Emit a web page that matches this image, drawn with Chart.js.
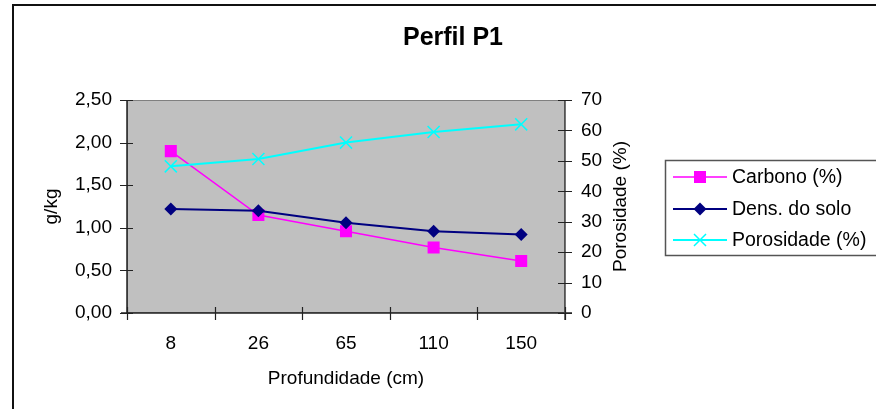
<!DOCTYPE html>
<html>
<head>
<meta charset="utf-8">
<script src="https://cdn.jsdelivr.net/npm/chart.js@4/dist/chart.umd.min.js"></script>
<style>
  html, body { margin: 0; padding: 0; background: #fff; }
  #wrap { width: 876px; height: 409px; position: relative; }
</style>
</head>
<body>
<div id="wrap"><canvas id="c" width="876" height="409"></canvas></div>
<script>
// Depth of each sample (cm)
const categories = ['8', '26', '65', '110', '150'];
// Left axis (g/kg)
const carbono = [1.90, 1.15, 0.96, 0.77, 0.61];
const densidade = [1.22, 1.20, 1.06, 0.96, 0.92];
// Right axis (%)
const porosidade = [48.2, 50.6, 56.0, 59.5, 62.0];

const leftTicks = [0, 0.5, 1, 1.5, 2, 2.5];
const rightTicks = [0, 10, 20, 30, 40, 50, 60, 70];

const FONT = "'Liberation Sans', Arial, sans-serif";
const FS = 19;

// Background of the plotting area, frame, crossing tick marks, title and legend
const decor = {
  id: 'decor',
  beforeDatasetsDraw(chart) {
    const { ctx, chartArea: a, scales } = chart;
    ctx.save();
    ctx.fillStyle = '#C0C0C0';
    ctx.fillRect(a.left, a.top, a.right - a.left, a.bottom - a.top);
    ctx.strokeStyle = '#808080';
    ctx.lineWidth = 1;
    ctx.strokeRect(a.left + 0.5, a.top + 0.5, a.right - a.left - 1, a.bottom - a.top - 1);

    ctx.strokeStyle = '#222';
    ctx.lineWidth = 1.5;
    ctx.beginPath();
    ctx.moveTo(a.left, a.top); ctx.lineTo(a.left, a.bottom);
    ctx.moveTo(a.left - 6, a.bottom); ctx.lineTo(a.right + 7, a.bottom);
    ctx.stroke();
    ctx.strokeStyle = '#444';
    ctx.beginPath();
    ctx.moveTo(a.right, a.top); ctx.lineTo(a.right, a.bottom + 7);
    ctx.stroke();

    // crossing tick marks
    ctx.strokeStyle = '#222';
    ctx.lineWidth = 1.2;
    ctx.beginPath();
    leftTicks.forEach(v => {
      const y = Math.round(scales.y.getPixelForValue(v)) + 0.5;
      ctx.moveTo(a.left - 7, y); ctx.lineTo(a.left + 6, y);
    });
    rightTicks.forEach(v => {
      const y = Math.round(scales.y1.getPixelForValue(v)) + 0.5;
      ctx.moveTo(a.right - 7, y); ctx.lineTo(a.right + 7, y);
    });
    const xs = scales.x;
    for (let i = 0; i <= categories.length; i++) {
      const x = Math.round(xs.getPixelForValue(i - 0.5)) + 0.5;
      ctx.moveTo(x, a.bottom - 6); ctx.lineTo(x, a.bottom + 7);
    }
    ctx.stroke();
    ctx.restore();
  },
  afterDraw(chart) {
    const { ctx, chartArea: a } = chart;
    ctx.save();
    // outer frame
    ctx.strokeStyle = '#111';
    ctx.lineWidth = 2;
    ctx.beginPath();
    ctx.moveTo(13, 420); ctx.lineTo(13, 5); ctx.lineTo(880, 5);
    ctx.stroke();

    // title
    ctx.fillStyle = '#000';
    ctx.font = 'bold 25px ' + FONT;
    ctx.textAlign = 'center';
    ctx.textBaseline = 'middle';
    ctx.fillText('Perfil P1', 453, 38);

    // right axis title, reading bottom to top
    ctx.save();
    ctx.translate(621, (a.top + a.bottom) / 2);
    ctx.rotate(-Math.PI / 2);
    ctx.font = FS + 'px ' + FONT;
    ctx.textAlign = 'center';
    ctx.textBaseline = 'middle';
    ctx.fillText('Porosidade (%)', 0, 0);
    ctx.restore();

    // legend
    ctx.strokeStyle = '#555';
    ctx.lineWidth = 1.5;
    ctx.strokeRect(665.5, 160.5, 220, 95);
    const rows = [177, 209, 240];
    chart.data.datasets.forEach((ds, i) => {
      const y = rows[i];
      ctx.strokeStyle = ds.borderColor;
      ctx.lineWidth = ds.borderWidth;
      ctx.beginPath();
      ctx.moveTo(673, y); ctx.lineTo(727, y);
      ctx.stroke();
      ctx.fillStyle = ds.backgroundColor;
      ctx.strokeStyle = ds.borderColor;
      ctx.lineWidth = ds.pointBorderWidth;
      Chart.helpers.drawPoint(ctx, {
        pointStyle: ds.pointStyle,
        radius: ds.pointRadius,
        borderWidth: ds.pointBorderWidth
      }, 700, y);
      ctx.fillStyle = '#000';
      ctx.font = '19.5px ' + FONT;
      ctx.textAlign = 'left';
      ctx.textBaseline = 'middle';
      ctx.fillText(ds.label, 732, y + 1);
    });
    ctx.restore();
  }
};

new Chart(document.getElementById('c'), {
  type: 'line',
  data: {
    labels: categories,
    datasets: [
      {
        label: 'Carbono (%)',
        data: carbono,
        yAxisID: 'y',
        borderColor: '#FF00FF',
        backgroundColor: '#FF00FF',
        borderWidth: 1.5,
        pointStyle: 'rect',
        pointRadius: 8.5,
        pointBorderWidth: 0,
        order: 3
      },
      {
        label: 'Dens. do solo',
        data: densidade,
        yAxisID: 'y',
        borderColor: '#000080',
        backgroundColor: '#000080',
        borderWidth: 2,
        pointStyle: 'rectRot',
        pointRadius: 6.5,
        pointBorderWidth: 0,
        order: 2
      },
      {
        label: 'Porosidade (%)',
        data: porosidade,
        yAxisID: 'y1',
        borderColor: '#00FFFF',
        backgroundColor: '#00FFFF',
        borderWidth: 2,
        pointStyle: 'crossRot',
        pointRadius: 8.5,
        pointBorderWidth: 1.5,
        order: 1
      }
    ]
  },
  options: {
    responsive: false,
    animation: false,
    devicePixelRatio: 1,
    layout: { padding: { left: 36, right: 244, top: 100, bottom: 15 } },
    plugins: {
      legend: { display: false },
      title: { display: false },
      tooltip: { enabled: false }
    },
    elements: { line: { tension: 0 } },
    scales: {
      x: {
        offset: true,
        grid: { display: false, drawTicks: false },
        border: { display: false },
        ticks: { color: '#000', font: { family: FONT, size: FS }, padding: 19 },
        title: { display: true, text: 'Profundidade (cm)', color: '#000', font: { family: FONT, size: FS }, padding: { top: 4, bottom: 4 } },
        afterFit(s) { s.height = 81; }
      },
      y: {
        position: 'left',
        min: 0, max: 2.5,
        afterBuildTicks(s) { s.ticks = leftTicks.map(v => ({ value: v })); },
        grid: { display: false, drawTicks: false },
        border: { display: false },
        ticks: {
          color: '#000', font: { family: FONT, size: FS }, padding: 15,
          callback: v => v.toFixed(2).replace('.', ',')
        },
        title: { display: true, text: 'g/kg', color: '#000', font: { family: FONT, size: FS }, padding: { top: 4, bottom: 4 } },
        afterFit(s) { s.width = 91; }
      },
      y1: {
        position: 'right',
        min: 0, max: 70,
        afterBuildTicks(s) { s.ticks = rightTicks.map(v => ({ value: v })); },
        grid: { display: false, drawTicks: false },
        border: { display: false },
        ticks: { color: '#000', font: { family: FONT, size: FS }, padding: 16 },
        title: { display: false },
        afterFit(s) { s.width = 67; }
      }
    }
  },
  plugins: [decor]
});
</script>
</body>
</html>
